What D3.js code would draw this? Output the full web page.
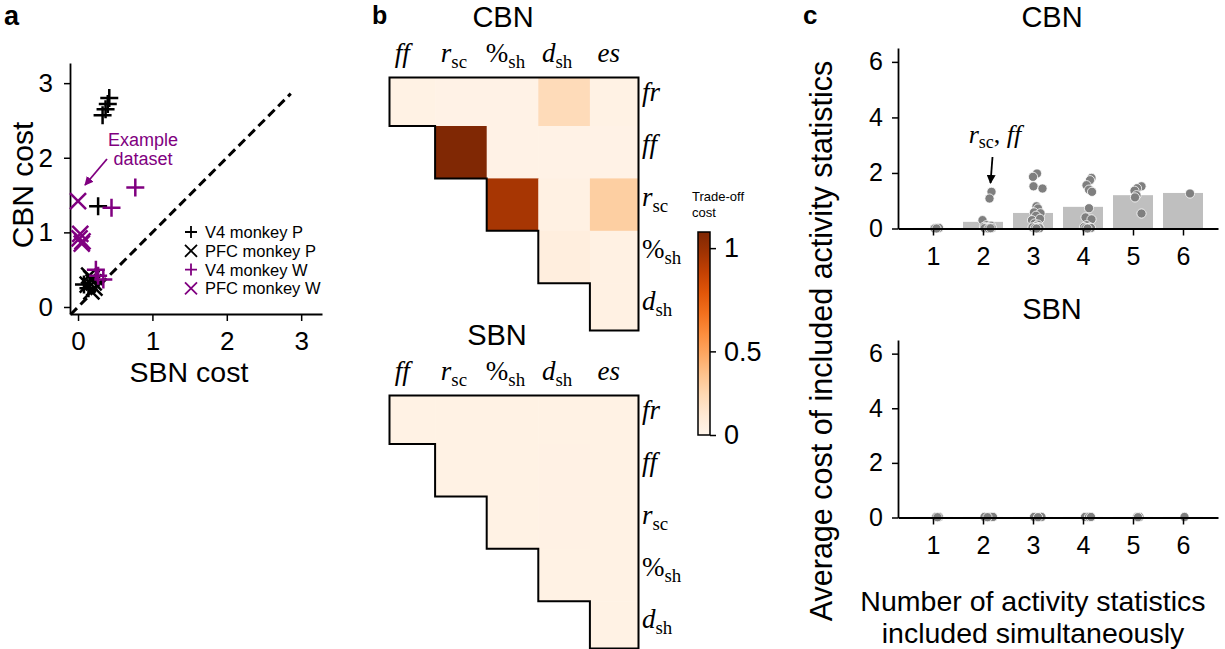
<!DOCTYPE html>
<html lang="en">
  <head>
    <meta charset="utf-8" />
    <title>Trade-off cost</title>
    <style>
      body { margin: 0; background: #fff; }
      svg text { font-family: "Liberation Sans", Arial, sans-serif; }
    </style>
  </head>
  <body>
    <div id="chart"></div>
    <script src="https://d3js.org/d3.v7.min.js"></script>
    <script>
      // ---- panel a data: [SBN cost, CBN cost] ----
      const v4P = [[0.42, 2.80], [0.40, 2.72], [0.37, 2.65], [0.33, 2.57], [0.27, 1.35], [0.08, 0.30], [0.14, 0.25]];
      const pfcP = [[0.15, 0.42], [0.18, 0.38], [0.21, 0.33], [0.13, 0.30], [0.18, 0.21], [0.22, 0.26]];
      const v4W = [[0.77, 1.60], [0.45, 1.33], [0.24, 0.50], [0.34, 0.37], [0.27, 0.42]];
      const pfcW = [[0.00, 1.42], [0.03, 0.98], [0.06, 0.88], [0.02, 0.92], [0.05, 0.85]];
      const aTicks = [0, 1, 2, 3];

      // ---- panel b data ----
      const colLabels = [
        { b: "ff", it: true }, { b: "r", s: "sc", it: true }, { b: "%", s: "sh", it: false },
        { b: "d", s: "sh", it: true }, { b: "es", it: true }
      ];
      const rowLabels = [
        { b: "fr", it: true }, { b: "ff", it: true }, { b: "r", s: "sc", it: true },
        { b: "%", s: "sh", it: false }, { b: "d", s: "sh", it: true }
      ];
      // upper triangle, row r holds cols r..4
      const cbnCost = [
        [0.05, 0.04, 0.04, 0.25, 0.05],
        [null, 1.07, 0.04, 0.04, 0.04],
        [null, null, 0.96, 0.06, 0.32],
        [null, null, null, 0.09, 0.06],
        [null, null, null, null, 0.06]
      ];
      const sbnCost = [
        [0.05, 0.05, 0.05, 0.05, 0.05],
        [null, 0.05, 0.05, 0.055, 0.05],
        [null, null, 0.05, 0.055, 0.05],
        [null, null, null, 0.05, 0.05],
        [null, null, null, null, 0.05]
      ];
      const cbTicks = [0, 0.5, 1];

      // ---- panel c data ----
      const nStats = [1, 2, 3, 4, 5, 6];
      const cbnMean = [0.02, 0.24, 0.56, 0.78, 1.20, 1.28];
      const sbnMean = [0.02, 0.02, 0.02, 0.02, 0.02, 0.02];
      // per group: [x offset, cost]
      const cbnDots = [
        [[0.08, 0.03], [0.05, 0.02], [0.10, 0.01], [0.03, 0.0], [0.12, 0.02], [0.07, 0.0]],
        [[0.17, 1.32], [0.13, 1.08], [-0.01, 0.30], [0.07, 0.12], [0.16, 0.10], [0.02, 0.06], [0.10, 0.04], [0.14, 0.03],
         [0.05, 0.02], [0.12, 0.02], [0.08, 0.01], [0.18, 0.02], [0.03, 0.01], [0.11, 0.0], [0.15, 0.01]],
        [[0.08, 1.98], [0.00, 1.86], [0.01, 1.52], [0.19, 1.44], [0.07, 0.80], [0.10, 0.72], [0.02, 0.58], [0.15, 0.55],
         [0.06, 0.46], [-0.02, 0.30], [0.14, 0.35], [0.03, 0.18], [0.10, 0.14], [0.06, 0.08], [0.12, 0.05], [-0.01, 0.04],
         [0.09, 0.03], [0.04, 0.02], [0.13, 0.01], [0.07, 0.0]],
        [[0.17, 1.82], [0.14, 1.74], [0.07, 1.56], [0.12, 1.40], [0.18, 1.32], [0.12, 0.73], [0.05, 0.40], [0.17, 0.33],
         [0.07, 0.12], [0.02, 0.05], [0.14, 0.04], [0.10, 0.02], [0.05, 0.01], [0.16, 0.02], [0.09, 0.0]],
        [[0.17, 1.52], [0.08, 1.45], [0.03, 1.36], [0.07, 1.20], [0.04, 1.12], [0.17, 0.54]],
        [[0.14, 1.26]]
      ];
      const sbnDots = [
        [[0.06, 0.02], [0.12, 0.02], [0.09, 0.01]],
        [[0.03, 0.02], [0.14, 0.02], [0.20, 0.02], [0.09, 0.01]],
        [[0.02, 0.02], [0.17, 0.02], [0.10, 0.01]],
        [[0.04, 0.02], [0.12, 0.02], [0.16, 0.02]],
        [[0.08, 0.02], [0.13, 0.02], [0.10, 0.01]],
        [[0.03, 0.02]]
      ];
      const cTicks = [0, 2, 4, 6];

      const W = 1225, H = 649;
      const svg = d3.select("#chart").append("svg").attr("width", W).attr("height", H);
      svg.append("rect").attr("width", W).attr("height", H).attr("fill", "#fff");

      const defs = svg.append("defs");
      const arrowHead = (id, color) => {
        defs.append("marker").attr("id", id).attr("viewBox", "0 0 10 10")
          .attr("refX", 9).attr("refY", 5).attr("markerWidth", 5).attr("markerHeight", 5)
          .attr("orient", "auto")
          .append("path").attr("d", "M0,0L10,5L0,10z").attr("fill", color);
      };
      arrowHead("ahPurple", "#800080");
      arrowHead("ahBlack", "#000");

      const mathFont = "'Liberation Serif', 'DejaVu Serif', serif";
      const mathLabel = (sel, x, y, lab, size, anchor) => {
        const t = sel.append("text").attr("x", x).attr("y", y)
          .attr("font-size", size).attr("text-anchor", anchor || "start")
          .style("font-family", mathFont);
        t.append("tspan").attr("font-style", lab.it ? "italic" : "normal").text(lab.b);
        if (lab.s) t.append("tspan").attr("font-size", size * 0.7).attr("dy", size * 0.22).text(lab.s);
        return t;
      };

      const styleAxis = (g, fs) => {
        g.select(".domain").attr("stroke", "#000").attr("stroke-width", 1.8);
        g.selectAll(".tick line").attr("stroke", "#000").attr("stroke-width", 1.5);
        g.selectAll(".tick text").attr("fill", "#000").attr("font-size", fs)
          .style("font-family", "'Liberation Sans', Arial, sans-serif");
      };
      const intFmt = d3.format("d");

      // panel labels
      [["a", 4, 25, 27], ["b", 372, 24, 25], ["c", 803, 24, 26]].forEach(([t, x, y, fs]) => {
        svg.append("text").attr("x", x).attr("y", y).attr("font-size", fs)
          .attr("font-weight", "bold").text(t);
      });

      // ================= panel a =================
      const xA = d3.scaleLinear().domain([-0.108, 3.28]).range([70, 322]);
      const yA = d3.scaleLinear().domain([-0.094, 3.27]).range([314, 63]);
      const gA = svg.append("g");

      gA.append("g").attr("transform", "translate(0,314)")
        .call(d3.axisBottom(xA).tickValues(aTicks).tickFormat(intFmt).tickSize(7).tickPadding(11).tickSizeOuter(0))
        .call(g => styleAxis(g, 26));
      gA.append("g").attr("transform", "translate(70,0)")
        .call(d3.axisLeft(yA).tickValues(aTicks).tickFormat(intFmt).tickSize(6).tickPadding(11).tickSizeOuter(0))
        .call(g => styleAxis(g, 26));

      gA.append("line")
        .attr("x1", xA(-0.1)).attr("y1", yA(-0.1)).attr("x2", xA(2.86)).attr("y2", yA(2.86))
        .attr("stroke", "#000").attr("stroke-width", 3).attr("stroke-dasharray", "9,5");

      const plusPath = s => `M${-s},0H${s}M0,${-s}V${s}`;
      const crossPath = s => `M${-s},${-s}L${s},${s}M${-s},${s}L${s},${-s}`;
      const markerSets = [
        { data: v4P, path: plusPath(9), color: "#000", label: "V4 monkey P", lp: plusPath(6) },
        { data: pfcP, path: crossPath(8), color: "#000", label: "PFC monkey P", lp: crossPath(6) },
        { data: v4W, path: plusPath(9), color: "#800080", label: "V4 monkey W", lp: plusPath(6) },
        { data: pfcW, path: crossPath(8), color: "#800080", label: "PFC monkey W", lp: crossPath(6) }
      ];
      markerSets.forEach(m => {
        gA.selectAll(null).data(m.data).enter().append("path")
          .attr("transform", d => `translate(${xA(d[0])},${yA(d[1])})`)
          .attr("d", m.path).attr("fill", "none").attr("stroke", m.color).attr("stroke-width", 2.5);
      });

      const legA = gA.append("g").attr("transform", "translate(191,232)");
      markerSets.forEach((m, i) => {
        const row = legA.append("g").attr("transform", `translate(0,${i * 18.8})`);
        row.append("path").attr("d", m.lp).attr("fill", "none").attr("stroke", m.color).attr("stroke-width", 1.8);
        row.append("text").attr("x", 14).attr("y", 6).attr("font-size", 16.5).text(m.label);
      });

      gA.append("text").attr("x", 143).attr("y", 146).attr("text-anchor", "middle")
        .attr("font-size", 18).attr("fill", "#800080").text("Example");
      gA.append("text").attr("x", 143).attr("y", 165).attr("text-anchor", "middle")
        .attr("font-size", 18).attr("fill", "#800080").text("dataset");
      gA.append("line").attr("x1", 107).attr("y1", 159).attr("x2", 85).attr("y2", 185)
        .attr("stroke", "#800080").attr("stroke-width", 1.8).attr("marker-end", "url(#ahPurple)");

      gA.append("text").attr("x", 189).attr("y", 382).attr("text-anchor", "middle")
        .attr("font-size", 28.5).text("SBN cost");
      gA.append("text").attr("transform", "translate(33,185) rotate(-90)").attr("text-anchor", "middle")
        .attr("font-size", 30).text("CBN cost");

      // ================= panel b =================
      const cbMax = 1.074, cbGamma = 1.16;
      const color = d3.scaleSequentialPow(d3.interpolateOranges).exponent(cbGamma).domain([0, cbMax]);
      const heat = (y0, title, titleX, vals, clipId) => {
        const xs = d3.scaleBand().domain(d3.range(5)).range([383.5, 641.5]);
        const ys = d3.scaleBand().domain(d3.range(5)).range([y0, y0 + 262]);
        const st = xs.step(), sy = ys.step();
        const g = svg.append("g");
        g.append("text").attr("x", titleX).attr("y", y0 - 47).attr("text-anchor", "middle")
          .attr("font-size", 29).text(title);
        colLabels.forEach((lab, i) => mathLabel(g, xs(i) + st / 2 - 7, y0 - 12, lab, 27, "middle"));
        rowLabels.forEach((lab, i) => mathLabel(g, 642, ys(i) + sy / 2 + 1, lab, 27, "start"));

        const il = 6, it = 4, ir = 3, ib = 5;
        const X = k => xs.range()[0] + k * st, Y = k => ys.range()[0] + k * sy;
        const pts = [[X(0) + il, Y(0) + it], [X(5) - ir, Y(0) + it], [X(5) - ir, Y(5) - ib], [X(4), Y(5) - ib]];
        for (let k = 4; k >= 1; k--) { pts.push([X(k), Y(k)]); pts.push([X(k - 1) + (k === 1 ? il : 0), Y(k)]); }
        const outline = "M" + pts.map(p => p.join(",")).join("L") + "Z";

        defs.append("clipPath").attr("id", clipId).append("path").attr("d", outline);
        const cells = [];
        vals.forEach((row, r) => row.forEach((v, c) => { if (v !== null) cells.push({ r, c, v }); }));
        g.append("g").attr("clip-path", `url(#${clipId})`)
          .selectAll("rect").data(cells).enter().append("rect")
          .attr("x", d => xs(d.c)).attr("y", d => ys(d.r))
          .attr("width", st + 0.5).attr("height", sy + 0.5)
          .attr("fill", d => color(d.v));
        g.append("path").attr("d", outline).attr("fill", "none").attr("stroke", "#000").attr("stroke-width", 2);
      };
      heat(73.6, "CBN", 503, cbnCost, "clipCbn");
      heat(391.6, "SBN", 497, sbnCost, "clipSbn");

      // colorbar (power norm)
      const yCb = d3.scalePow().exponent(cbGamma).domain([0, cbMax]).range([435, 232]);
      const grad = defs.append("linearGradient").attr("id", "cbGrad")
        .attr("x1", 0).attr("y1", 1).attr("x2", 0).attr("y2", 0);
      d3.range(0, 1.0001, 0.1).forEach(t => grad.append("stop")
        .attr("offset", t).attr("stop-color", d3.interpolateOranges(t)));
      svg.append("rect").attr("x", 698).attr("y", 232).attr("width", 12).attr("height", 203)
        .attr("fill", "url(#cbGrad)").attr("stroke", "#000").attr("stroke-width", 1.5);
      svg.append("g").attr("transform", "translate(710,0)")
        .call(d3.axisRight(yCb).tickValues(cbTicks).tickFormat(d3.format("~g")).tickSize(6).tickPadding(8).tickSizeOuter(0))
        .call(g => { styleAxis(g, 27); g.select(".domain").remove(); });
      svg.append("text").attr("x", 692).attr("y", 201).attr("font-size", 13).text("Trade-off");
      svg.append("text").attr("x", 692).attr("y", 217).attr("font-size", 13).text("cost");

      // ================= panel c =================
      const xC = d3.scaleLinear().domain([0.3, 6.7]).range([898, 1218]);
      const barPanel = (yTop, yBottom, title, means, dots) => {
        const y = d3.scaleLinear().domain([0, 6.5]).range([yBottom, yTop]);
        const g = svg.append("g");
        g.append("text").attr("x", 1052).attr("y", yTop - 21).attr("text-anchor", "middle")
          .attr("font-size", 29).text(title);
        g.selectAll("rect").data(nStats).enter().append("rect")
          .attr("x", d => xC(d - 0.4)).attr("width", xC(0.8) - xC(0))
          .attr("y", (d, i) => y(means[i])).attr("height", (d, i) => Math.max(1, yBottom - y(means[i])))
          .attr("fill", "#bfbfbf");
        dots.forEach((grp, i) => {
          g.selectAll(null).data(grp).enter().append("circle")
            .attr("cx", d => xC(nStats[i] + d[0])).attr("cy", d => y(d[1])).attr("r", 4.6)
            .attr("fill", "#7f7f7f").attr("stroke", "#fff").attr("stroke-width", 0.8);
        });
        g.append("g").attr("transform", `translate(0,${yBottom})`)
          .call(d3.axisBottom(xC).tickValues(nStats).tickFormat(intFmt).tickSize(7).tickPadding(12).tickSizeOuter(0))
          .call(a => styleAxis(a, 25));
        g.append("g").attr("transform", "translate(898,0)")
          .call(d3.axisLeft(y).tickValues(cTicks).tickFormat(intFmt).tickSize(6).tickPadding(9).tickSizeOuter(0))
          .call(a => styleAxis(a, 25));
        return { g, y };
      };
      const cbnPanel = barPanel(48, 228.5, "CBN", cbnMean, cbnDots);
      barPanel(340, 517.5, "SBN", sbnMean, sbnDots);

      // annotation r_sc, ff
      const ann = cbnPanel.g.append("text").attr("x", 995).attr("y", 143).attr("text-anchor", "middle")
        .attr("font-size", 26).style("font-family", mathFont);
      ann.append("tspan").attr("font-style", "italic").text("r");
      ann.append("tspan").attr("font-size", 18).attr("dy", 5).text("sc");
      ann.append("tspan").attr("dy", -5).text(", ");
      ann.append("tspan").attr("font-style", "italic").text("ff");
      cbnPanel.g.append("line").attr("x1", 992.5).attr("y1", 157).attr("x2", 990.5).attr("y2", 183)
        .attr("stroke", "#000").attr("stroke-width", 1.8).attr("marker-end", "url(#ahBlack)");

      svg.append("text").attr("transform", "translate(832,341) rotate(-90)").attr("text-anchor", "middle")
        .attr("font-size", 30.5).text("Average cost of included activity statistics");
      svg.append("text").attr("x", 1033).attr("y", 611).attr("text-anchor", "middle")
        .attr("font-size", 28.5).text("Number of activity statistics");
      svg.append("text").attr("x", 1033).attr("y", 643).attr("text-anchor", "middle")
        .attr("font-size", 28.5).text("included simultaneously");
    </script>
  </body>
</html>
